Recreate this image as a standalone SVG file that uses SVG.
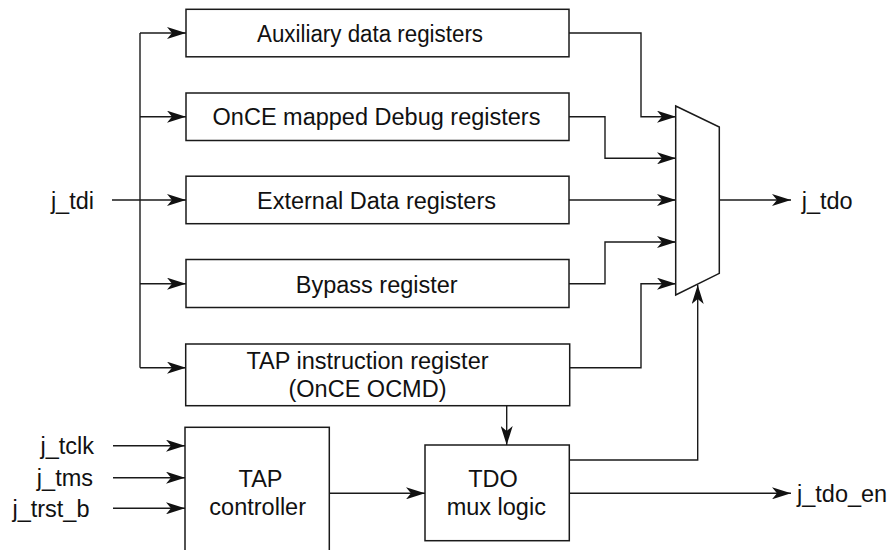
<svg xmlns="http://www.w3.org/2000/svg" width="893" height="550" viewBox="0 0 893 550">
<style>
  .box { fill: #ffffff; stroke: #1a1a1a; stroke-width: 1.5; }
  .mux { fill: #ffffff; stroke: #1a1a1a; stroke-width: 1.5; stroke-linejoin: miter; }
  .wire { fill: none; stroke: #1a1a1a; stroke-width: 1.4; }
  .arr { marker-end: url(#ah); }
  text { font-family: "Liberation Sans", Arial, Helvetica, sans-serif; font-size: 23.5px; fill: #111111; }
  .c { text-anchor: middle; }
  .r { text-anchor: end; }
</style>
<defs>
  <marker id="ah" viewBox="0 0 19 12" refX="19" refY="6" markerWidth="19" markerHeight="12" markerUnits="userSpaceOnUse" orient="auto">
    <path d="M0,0 L19,6 L0,12 L5,6 z" fill="#111111"/>
  </marker>
</defs>
<rect width="893" height="550" fill="#ffffff"/>

<g id="connectors">
  <path class="wire arr" d="M112,200 H186"/>
  <path class="wire" d="M140,33 V367.7"/>
  <path class="wire arr" d="M140,33 H186"/>
  <path class="wire arr" d="M140,116.7 H186"/>
  <path class="wire arr" d="M140,283.7 H186"/>
  <path class="wire arr" d="M140,367.7 H186"/>
  <path class="wire arr" d="M569,33 H641 V116.7 H676"/>
  <path class="wire arr" d="M569,116.7 H605 V158.3 H676"/>
  <path class="wire arr" d="M569,200 H676"/>
  <path class="wire arr" d="M569,283.7 H605 V242 H676"/>
  <path class="wire arr" d="M569,367.7 H641 V283.7 H676"/>
  <path class="wire arr" d="M719.3,200 H791"/>
  <path class="wire arr" d="M506.7,405.7 V445"/>
  <path class="wire arr" d="M569,460 H697.7 V285"/>
  <path class="wire arr" d="M329.3,493.3 H425"/>
  <path class="wire arr" d="M569,493.3 H791"/>
  <path class="wire arr" d="M113,445.7 H185"/>
  <path class="wire arr" d="M113,477.7 H185"/>
  <path class="wire arr" d="M113,508.3 H185"/>
</g>

<g id="aux">
  <rect class="box" x="186" y="9.3" width="383" height="47.5"/>
  <text class="c" x="370" y="41.7" textLength="226" lengthAdjust="spacingAndGlyphs">Auxiliary data registers</text>
</g>
<g id="once">
  <rect class="box" x="186" y="93" width="383" height="47.5"/>
  <text class="c" x="376.5" y="124.5">OnCE mapped Debug registers</text>
</g>
<g id="ext">
  <rect class="box" x="186" y="176.2" width="383" height="47.5"/>
  <text class="c" x="376.5" y="208.8">External Data registers</text>
</g>
<g id="bypass">
  <rect class="box" x="186" y="259.5" width="383" height="48"/>
  <text class="c" x="376.7" y="292.5">Bypass register</text>
</g>
<g id="tapir">
  <rect class="box" x="185.7" y="344" width="384" height="61.7"/>
  <text class="c" x="367.5" y="369.3">TAP instruction register</text>
  <text class="c" x="367.5" y="397">(OnCE OCMD)</text>
</g>
<g id="tapctrl">
  <rect class="box" x="185" y="427.3" width="144.3" height="140"/>
  <text class="c" x="260.5" y="486.7">TAP</text>
  <text class="c" x="257.7" y="515">controller</text>
</g>
<g id="tdomux">
  <rect class="box" x="425" y="445" width="144.3" height="95.7"/>
  <text class="c" x="493" y="486.7">TDO</text>
  <text class="c" x="496.3" y="515">mux logic</text>
</g>
<g id="mux">
  <polygon class="mux" points="675.7,106 719.3,127 719.3,273.3 675.7,295"/>
</g>

<g id="labels">
  <text class="r" x="94" y="208.5">j_tdi</text>
  <text class="r" x="94" y="454">j_tclk</text>
  <text class="r" x="93" y="486">j_tms</text>
  <text class="r" x="89.5" y="517">j_trst_b</text>
  <text x="801.7" y="208.5">j_tdo</text>
  <text x="797" y="501.8">j_tdo_en</text>
</g>
</svg>
